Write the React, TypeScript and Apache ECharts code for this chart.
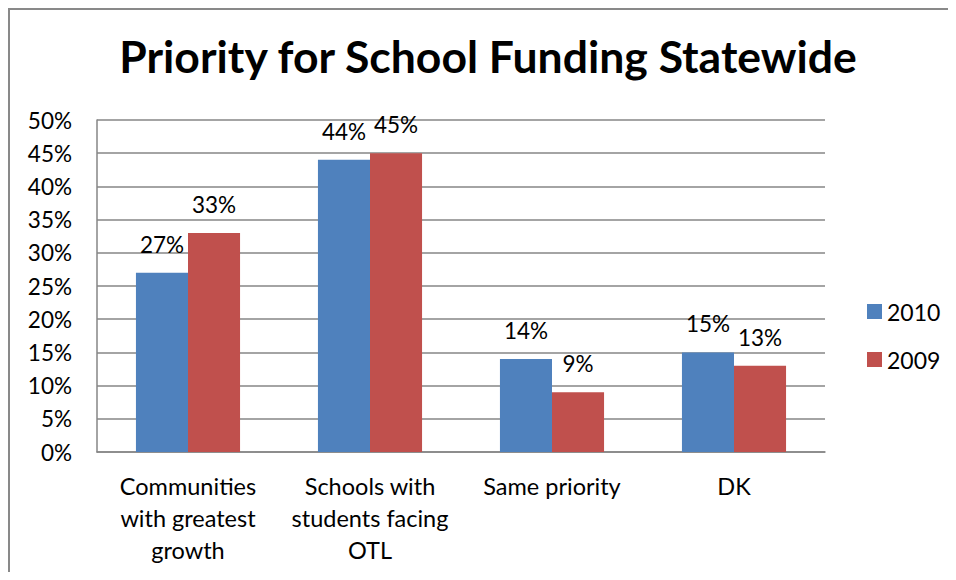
import React, { useEffect, useRef } from "react";
import * as echarts from "echarts";

const categories = [
  "Communities\nwith greatest\ngrowth",
  "Schools with\nstudents facing\nOTL",
  "Same priority",
  "DK",
];
const seriesNames = ["2010", "2009"];
const values2010 = [27, 44, 14, 15];
const values2009 = [33, 45, 9, 13];
const yTicks = { min: 0, max: 50, interval: 5 };
const titleText = "Priority for School Funding Statewide";

const FONT = "Lato";

export default function App() {
  const ref = useRef<HTMLDivElement>(null);
  useEffect(() => {
    if (!ref.current) return;
    const chart = echarts.init(ref.current, null, { renderer: "svg" });
    const labelStyle = {
      show: true,
      position: "top" as const,
      distance: 17,
      formatter: "{c}%",
      fontFamily: FONT,
      fontSize: 22.5,
      color: "#000",
    };
    chart.setOption({
      animation: false,
      backgroundColor: "#fff",
      textStyle: { fontFamily: FONT },
      title: {
        text: titleText,
        left: 475,
        textAlign: "center",
        top: 20,
        textStyle: { fontFamily: FONT, fontWeight: "bold", fontSize: 44.5, color: "#000" },
      },
      legend: {
        orient: "vertical",
        left: 859,
        top: 292,
        padding: 0,
        itemWidth: 15,
        itemHeight: 15,
        itemGap: 25,
        icon: "rect",
        textStyle: { fontFamily: FONT, fontSize: 23, color: "#000" },
        data: seriesNames,
      },
      grid: { left: 89, right: 123, top: 112, bottom: 120, containLabel: false },
      xAxis: {
        type: "category",
        data: categories,
        axisLine: { show: true, lineStyle: { color: "#868686", width: 1.5 } },
        axisTick: { show: false },
        axisLabel: {
          interval: 0,
          margin: 18,
          fontFamily: FONT,
          fontSize: 23.5,
          lineHeight: 32,
          color: "#000",
        },
      },
      yAxis: {
        type: "value",
        min: yTicks.min,
        max: yTicks.max,
        interval: yTicks.interval,
        axisLine: { show: true, lineStyle: { color: "#868686", width: 1.5 } },
        axisTick: { show: false },
        splitLine: { show: true, lineStyle: { color: "#868686", width: 1.5 } },
        axisLabel: {
          formatter: "{value}%",
          margin: 25,
          fontFamily: FONT,
          fontSize: 22.5,
          color: "#000",
        },
      },
      series: [
        {
          name: seriesNames[0],
          type: "bar",
          data: values2010,
          barWidth: "28.6%",
          barGap: "0%",
          itemStyle: { color: "#4F81BD" },
          label: labelStyle,
        },
        {
          name: seriesNames[1],
          type: "bar",
          data: values2009,
          barWidth: "28.6%",
          barGap: "0%",
          itemStyle: { color: "#C0504D" },
          label: labelStyle,
        },
      ],
      graphic: [
        { type: "line", shape: { x1: 1, y1: 0, x2: 1, y2: 564 }, style: { stroke: "#898989", lineWidth: 2 } },
        { type: "line", shape: { x1: 0, y1: 1, x2: 940, y2: 1 }, style: { stroke: "#898989", lineWidth: 2 } },
      ],
    });
    return () => chart.dispose();
  }, []);
  return <div ref={ref} style={{ width: 940, height: 564 }} />;
}
